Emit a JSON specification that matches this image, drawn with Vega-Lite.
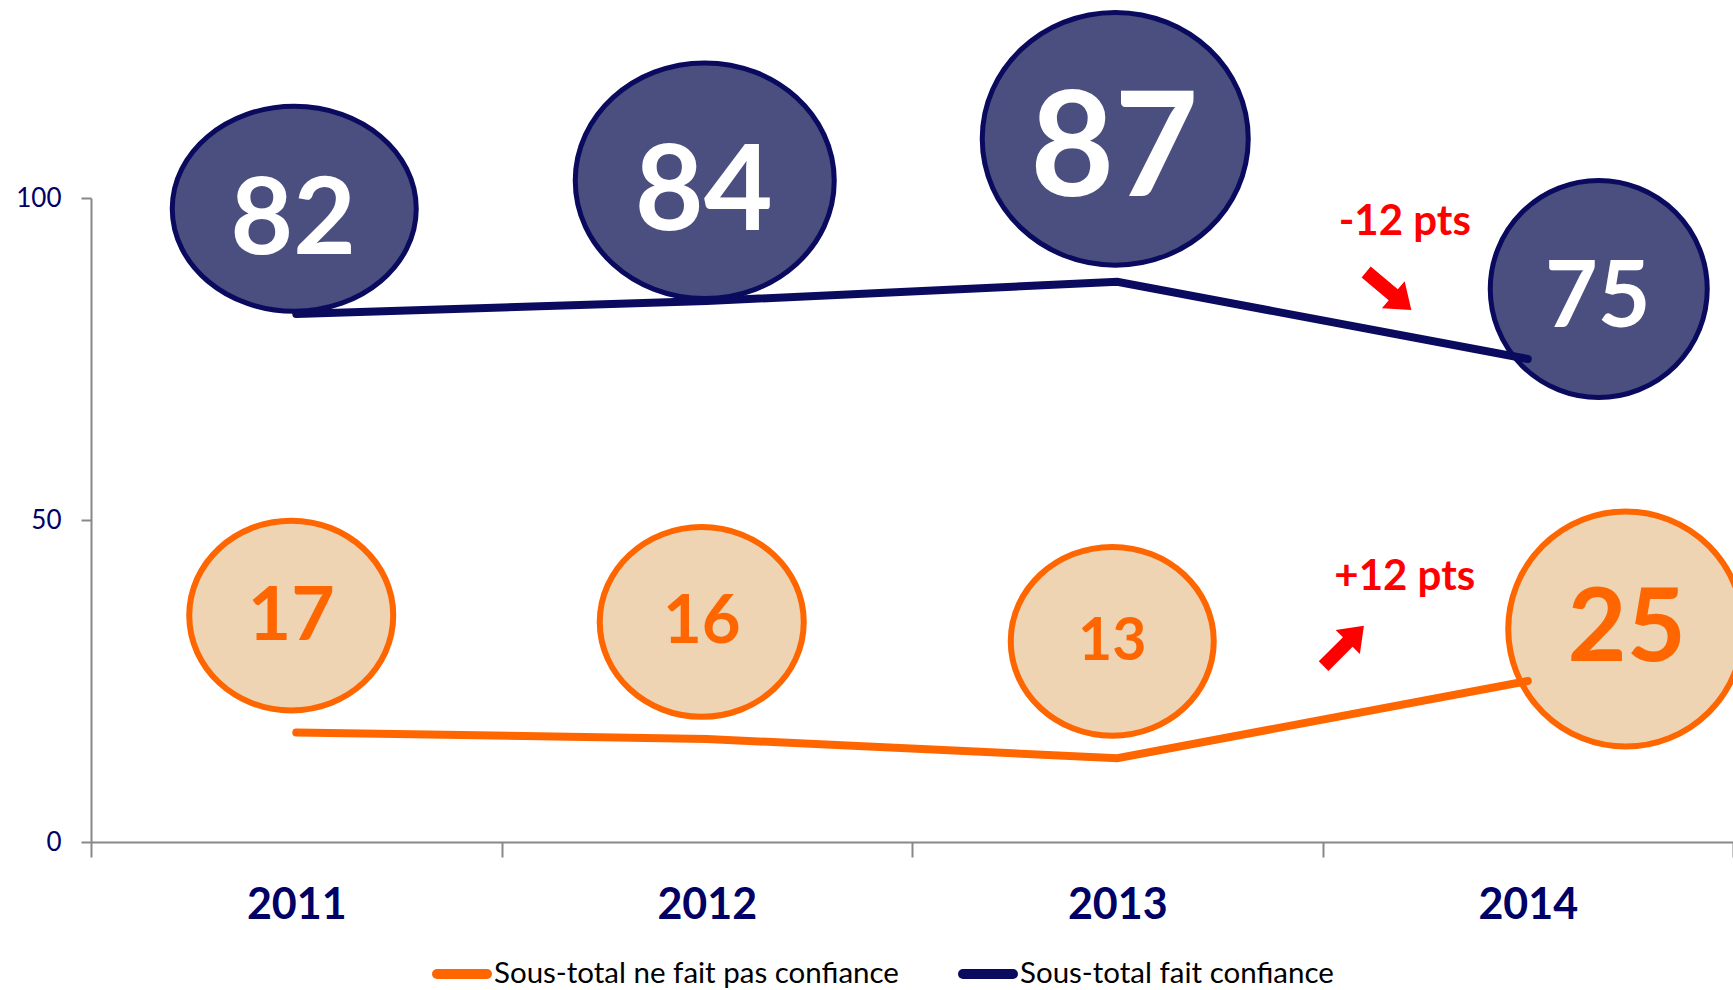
{
  "$schema": "https://vega.github.io/schema/vega-lite/v6.json",
  "width": 1642,
  "height": 644,
  "autosize": {"type": "none"},
  "padding": {"left": 91, "top": 198, "right": 0, "bottom": 148},
  "background": "white",
  "config": {"view": {"stroke": null}, "font": "Lato"},
  "data": {
    "values": [
      {"year": "2011", "series": "Sous-total fait confiance", "value": 82},
      {"year": "2012", "series": "Sous-total fait confiance", "value": 84},
      {"year": "2013", "series": "Sous-total fait confiance", "value": 87},
      {"year": "2014", "series": "Sous-total fait confiance", "value": 75, "change": "-12 pts"},
      {"year": "2011", "series": "Sous-total ne fait pas confiance", "value": 17},
      {"year": "2012", "series": "Sous-total ne fait pas confiance", "value": 16},
      {"year": "2013", "series": "Sous-total ne fait pas confiance", "value": 13},
      {"year": "2014", "series": "Sous-total ne fait pas confiance", "value": 25, "change": "+12 pts"}
    ]
  },
  "encoding": {
    "x": {
      "field": "year",
      "type": "ordinal",
      "scale": {"paddingInner": 0, "paddingOuter": 0},
      "axis": {
        "title": null,
        "labelAngle": 0,
        "labelFont": "Lato",
        "labelFontWeight": "bold",
        "labelFontSize": 43,
        "labelColor": "#000066",
        "labelPadding": 27,
        "tickSize": 15,
        "tickColor": "#888888",
        "tickWidth": 2,
        "domainColor": "#888888",
        "domainWidth": 2,
        "tickBand": "extent",
        "grid": false
      }
    }
  },
  "layer": [
    {
      "transform": [{"filter": "datum.series == 'Sous-total fait confiance' && datum.year != '2014'"}],
      "encoding": {
        "y": {"field": "value", "type": "quantitative", "scale": {"domain": [36.77, 82.77], "nice": false, "zero": false}, "axis": null}
      },
      "layer": [
        {
          "mark": {"type": "point", "filled": true, "fill": "#4a4f7f", "stroke": "#0a0a5f", "strokeWidth": 5, "opacity": 1, "xOffset": -2},
          "encoding": {
            "shape": {"field": "year", "type": "nominal", "scale": {"domain": ["2011", "2012", "2013"], "range": [
              "M1,0 C1,0.4639 0.5523,0.84 0,0.84 C-0.5523,0.84 -1,0.4639 -1,0 C-1,-0.4639 -0.5523,-0.84 0,-0.84 C0.5523,-0.84 1,-0.4639 1,0 Z",
              "M1,0 C1,0.5026 0.5523,0.91 0,0.91 C-0.5523,0.91 -1,0.5026 -1,0 C-1,-0.5026 -0.5523,-0.91 0,-0.91 C0.5523,-0.91 1,-0.5026 1,0 Z",
              "M1,0 C1,0.5247 0.5523,0.95 0,0.95 C-0.5523,0.95 -1,0.5247 -1,0 C-1,-0.5247 -0.5523,-0.95 0,-0.95 C0.5523,-0.95 1,-0.5247 1,0 Z"
            ]}, "legend": null},
            "size": {"field": "value", "type": "quantitative", "scale": {"domain": [82, 84, 87], "range": [59536, 67081, 70756]}, "legend": null}
          }
        },
        {
          "mark": {"type": "text", "font": "Lato", "fontWeight": "bold", "fill": "#ffffff", "align": "center", "baseline": "middle", "xOffset": -3, "yOffset": 13},
          "encoding": {
            "text": {"field": "value", "type": "quantitative"},
            "size": {"field": "value", "type": "quantitative", "scale": {"domain": [82, 84, 87], "range": [108, 119, 145]}, "legend": null}
          }
        }
      ],
      "resolve": {"scale": {"size": "independent"}}
    },
    {
      "encoding": {
        "y": {
          "field": "value",
          "type": "quantitative",
          "scale": {"domain": [0, 100]},
          "axis": {
            "title": null,
            "orient": "left",
            "values": [0, 50, 100],
            "labelFont": "Lato",
            "labelFontSize": 26,
            "labelColor": "#000066",
            "labelPadding": 20,
            "tickSize": 10,
            "tickColor": "#888888",
            "tickWidth": 2,
            "domainColor": "#888888",
            "domainWidth": 2,
            "grid": false
          }
        }
      },
      "layer": [
        {
          "transform": [{"filter": "datum.series == 'Sous-total fait confiance' && datum.year == '2014'"}],
          "mark": {"type": "point", "shape": "circle", "filled": true, "fill": "#4a4f7f", "stroke": "#0a0a5f", "strokeWidth": 5, "opacity": 1, "xOffset": 71, "yOffset": -70},
          "encoding": {"size": {"field": "value", "type": "quantitative", "scale": {"domain": [75, 82, 84, 87], "range": [47089, 59536, 67081, 70756]}, "legend": null}}
        },
        {
          "transform": [{"filter": "datum.series == 'Sous-total ne fait pas confiance' && datum.year != '2014'"}],
          "mark": {"type": "point", "shape": "M1,0 C1,0.5136 0.5523,0.93 0,0.93 C-0.5523,0.93 -1,0.5136 -1,0 C-1,-0.5136 -0.5523,-0.93 0,-0.93 C0.5523,-0.93 1,-0.5136 1,0 Z", "filled": true, "fill": "#eed4b2", "stroke": "#ff6600", "strokeWidth": 6, "opacity": 1, "xOffset": -5, "yOffset": -117},
          "encoding": {"size": {"field": "value", "type": "quantitative", "scale": {"domain": [13, 16, 17, 25], "range": [41209, 41616, 41616, 55225]}, "legend": null}}
        },
        {
          "transform": [{"filter": "datum.series == 'Sous-total ne fait pas confiance' && datum.year == '2014'"}],
          "mark": {"type": "point", "shape": "circle", "filled": true, "fill": "#eed4b2", "stroke": "#ff6600", "strokeWidth": 6, "opacity": 1, "xOffset": 98, "yOffset": -52},
          "encoding": {"size": {"field": "value", "type": "quantitative", "scale": {"domain": [13, 16, 17, 25], "range": [41209, 41616, 41616, 55225]}, "legend": null}}
        },
        {
          "mark": {"type": "line", "strokeWidth": 8, "strokeCap": "round"},
          "encoding": {
            "color": {
              "field": "series",
              "type": "nominal",
              "scale": {"domain": ["Sous-total ne fait pas confiance", "Sous-total fait confiance"], "range": ["#ff6600", "#0a0a5f"]},
              "legend": {
                "title": null,
                "orient": "none",
                "direction": "horizontal",
                "legendX": 341,
                "legendY": 746,
                "symbolType": "stroke",
                "symbolSize": 2500,
                "symbolStrokeWidth": 10,
                "labelFont": "Lato",
                "labelFontSize": 29.5,
                "labelColor": "#000000",
                "labelOffset": 2,
                "labelLimit": 1000,
                "columnPadding": 44,
                "padding": 0,
                "encode": {"symbols": {"update": {"strokeCap": {"value": "round"}}}}
              }
            }
          }
        },
        {
          "transform": [{"filter": "datum.series == 'Sous-total fait confiance' && datum.year == '2014'"}],
          "mark": {"type": "text", "font": "Lato", "fontWeight": "bold", "fill": "#ffffff", "align": "center", "baseline": "middle", "xOffset": 70, "yOffset": -59},
          "encoding": {
            "text": {"field": "value", "type": "quantitative"},
            "size": {"field": "value", "type": "quantitative", "scale": {"domain": [75, 82, 84, 87], "range": [91, 108, 119, 145]}, "legend": null}
          }
        },
        {
          "transform": [{"filter": "datum.series == 'Sous-total ne fait pas confiance' && datum.year != '2014'"}],
          "mark": {"type": "text", "font": "Lato", "fontWeight": "bold", "fill": "#ff6600", "align": "center", "baseline": "middle", "xOffset": -5, "yOffset": -116},
          "encoding": {
            "text": {"field": "value", "type": "quantitative"},
            "size": {"field": "value", "type": "quantitative", "scale": {"domain": [13, 16, 17, 25], "range": [59, 67, 75, 102]}, "legend": null}
          }
        },
        {
          "transform": [{"filter": "datum.series == 'Sous-total ne fait pas confiance' && datum.year == '2014'"}],
          "mark": {"type": "text", "font": "Lato", "fontWeight": "bold", "fill": "#ff6600", "align": "center", "baseline": "middle", "xOffset": 99, "yOffset": -51},
          "encoding": {
            "text": {"field": "value", "type": "quantitative"},
            "size": {"field": "value", "type": "quantitative", "scale": {"domain": [13, 16, 17, 25], "range": [59, 67, 75, 102]}, "legend": null}
          }
        },
        {
          "transform": [{"filter": "datum.series == 'Sous-total fait confiance' && datum.change"}],
          "mark": {"type": "text", "font": "Lato", "fontWeight": "bold", "fontSize": 42, "fill": "#ff0000", "align": "center", "baseline": "middle", "xOffset": -123, "yOffset": -137},
          "encoding": {"text": {"field": "change", "type": "nominal"}}
        },
        {
          "transform": [{"filter": "datum.series == 'Sous-total ne fait pas confiance' && datum.change"}],
          "mark": {"type": "text", "font": "Lato", "fontWeight": "bold", "fontSize": 42, "fill": "#ff0000", "align": "center", "baseline": "middle", "xOffset": -123, "yOffset": -104},
          "encoding": {"text": {"field": "change", "type": "nominal"}}
        },
        {
          "transform": [{"filter": "datum.series == 'Sous-total fait confiance' && datum.change"}],
          "mark": {"type": "point", "shape": "M0,-1 L0.6,-0.2 L0.24,-0.2 L0.24,1 L-0.24,1 L-0.24,-0.2 L-0.6,-0.2 Z", "filled": true, "fill": "#ff0000", "strokeWidth": 0, "opacity": 1, "size": 3481, "angle": 130, "xOffset": -139, "yOffset": -68},
          "encoding": {}
        },
        {
          "transform": [{"filter": "datum.series == 'Sous-total ne fait pas confiance' && datum.change"}],
          "mark": {"type": "point", "shape": "M0,-1 L0.6,-0.2 L0.24,-0.2 L0.24,1 L-0.24,1 L-0.24,-0.2 L-0.6,-0.2 Z", "filled": true, "fill": "#ff0000", "strokeWidth": 0, "opacity": 1, "size": 3249, "angle": 45, "xOffset": -184, "yOffset": -35},
          "encoding": {}
        }
      ],
      "resolve": {"scale": {"size": "independent"}}
    }
  ],
  "resolve": {"scale": {"y": "independent", "size": "independent"}}
}
